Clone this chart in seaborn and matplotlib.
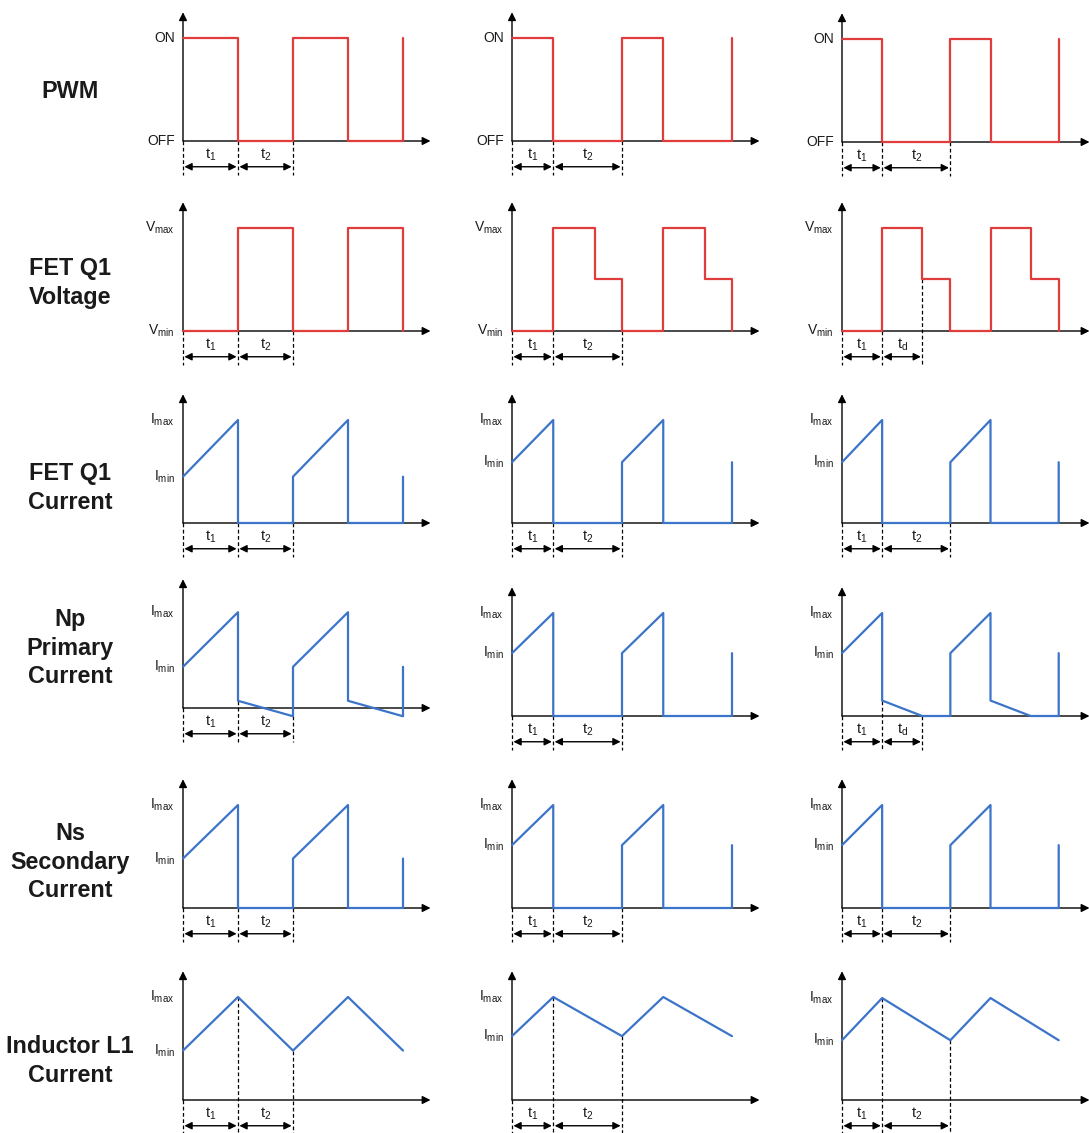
import numpy as np
import pandas as pd
import matplotlib
matplotlib.use('Agg')
import matplotlib.pyplot as plt
import seaborn as sns

# row titles
row_names = ['PWM', 'FET Q1\nVoltage', 'FET Q1\nCurrent', 'Np\nPrimary\nCurrent',
             'Ns\nSecondary\nCurrent', 'Inductor L1\nCurrent']

# timing per column (1 unit = half a period in column 1)
t_on = [1.0, 0.75, 0.73]     # t1
t_off = [1.0, 1.25, 1.24]    # t2
t_d = [1.0, 0.76, 0.73]      # td
n_periods = 2

# levels (0 = baseline, 1 = max level)
v_step = [1.0, 0.5, 0.5]
q1_imin = [0.45, 0.59, 0.59]
np_imax = [0.93, 1.0, 1.0]
np_imin = [0.40, 0.61, 0.61]
np_drop = [0.07, 0.0, 0.15]
np_tail = [-0.08, 0.0, 0.0]
np_decay = [1.0, 0.76, 0.73]
ns_imin = [0.48, 0.61, 0.61]
l1_imin = [0.48, 0.62, 0.58]
l1_imax = [1.0, 1.0, 0.99]

second_span = [['t_2', 't_2', 't_2'], ['t_2', 't_2', 't_d'], ['t_2', 't_2', 't_2'],
               ['t_2', 't_2', 't_d'], ['t_2', 't_2', 't_2'], ['t_2', 't_2', 't_2']]

RED = '#e03c3c'
BLUE = '#3b74c9'

# layout in pixels
W, H = 1089, 1133
col_x = [183, 512, 842]
base_y = [[141, 141, 142], [331, 331, 331], [523, 523, 523],
          [708, 716, 716], [908, 908, 908], [1100, 1100, 1100]]
label_y = [92, 283, 488, 648, 862, 1061]
px_x, px_y = 55, 103

sns.set_style('white')
plt.rcParams['font.family'] = ['Liberation Sans', 'DejaVu Sans']
plt.rcParams['mathtext.fontset'] = 'custom'
plt.rcParams['mathtext.rm'] = 'Liberation Sans'
plt.rcParams['mathtext.it'] = 'Liberation Sans'

fig = plt.figure(figsize=(W / 100, H / 100), dpi=100)


def wave(r, c):
    t1 = t_on[c]
    T = t_on[c] + t_off[c]
    pts = []
    for k in range(n_periods):
        t0 = k * T
        if r == 0:
            pts += [(t0, 1), (t0 + t1, 1), (t0 + t1, 0), (t0 + T, 0)]
        elif r == 1:
            pts += [(t0, 0), (t0 + t1, 0), (t0 + t1, 1), (t0 + t1 + t_d[c], 1),
                    (t0 + t1 + t_d[c], v_step[c]), (t0 + T, v_step[c]), (t0 + T, 0)]
        elif r == 2:
            pts += [(t0, q1_imin[c]), (t0 + t1, 1), (t0 + t1, 0), (t0 + T, 0)]
        elif r == 3:
            pts += [(t0, np_imin[c]), (t0 + t1, np_imax[c]), (t0 + t1, np_drop[c]),
                    (t0 + t1 + np_decay[c], np_tail[c]), (t0 + T, np_tail[c])]
        elif r == 4:
            pts += [(t0, ns_imin[c]), (t0 + t1, 1), (t0 + t1, 0), (t0 + T, 0)]
        else:
            pts += [(t0, l1_imin[c]), (t0 + t1, l1_imax[c])]
    end = n_periods * T
    final = {0: 1, 2: q1_imin[c], 3: np_imin[c], 4: ns_imin[c], 5: l1_imin[c]}
    if r in final:
        pts.append((end, final[r]))
    return pd.DataFrame(pts, columns=['t', 'y'])


def levels(r, c):
    if r == 0:
        return [('ON', 1), ('OFF', 0)]
    if r == 1:
        return [(r'$\mathregular{V_{max}}$', 1), (r'$\mathregular{V_{min}}$', 0)]
    imax = {2: 1, 3: np_imax[c], 4: 1, 5: l1_imax[c]}[r]
    imin = {2: q1_imin[c], 3: np_imin[c], 4: ns_imin[c], 5: l1_imin[c]}[r]
    return [(r'$\mathregular{I_{max}}$', imax), (r'$\mathregular{I_{min}}$', imin)]


for r in range(6):
    fig.text(70 / W, 1 - label_y[r] / H, row_names[r], ha='center', va='center',
             fontsize=16.8, fontweight='bold', color='#1a1a1a', linespacing=1.3)
    for c in range(3):
        x0, yb = col_x[c], base_y[r][c]
        xl, xr, yl, yh = -1.3, 4.8, -0.5, 1.4
        bot = yb - yl * px_y
        top = yb - yh * px_y
        ax = fig.add_axes([(x0 + xl * px_x) / W, 1 - bot / H,
                           (xr - xl) * px_x / W, (bot - top) / H])
        ax.set_xlim(xl, xr)
        ax.set_ylim(yl, yh)
        ax.set_axis_off()
        ax.set_facecolor('none')

        # axes with arrow heads
        arr = dict(arrowstyle='-|>', color='black', lw=1.0, mutation_scale=12,
                   shrinkA=0, shrinkB=0)
        ax.annotate('', xy=(4.5, 0), xytext=(0, 0), arrowprops=arr)
        ax.annotate('', xy=(0, 1.25), xytext=(0, 0), arrowprops=arr)

        df = wave(r, c)
        sns.lineplot(data=df, x='t', y='y', sort=False, estimator=None, ax=ax,
                     color=RED if r < 2 else BLUE, lw=1.6, zorder=3)
        ax.set_axis_off()

        for txt, lv in levels(r, c):
            ax.text(-0.15, lv, txt, ha='right', va='center', fontsize=10,
                    color='#1a1a1a')

        # time markers
        t1 = t_on[c]
        t_end = t1 + (t_d[c] if second_span[r][c] == 't_d' else t_off[c])
        for tm in [0, t1, t_end]:
            ys = df['y'][np.isclose(df['t'], tm)]
            start = ys.min() if (len(ys) and tm > 0) else 0
            ax.plot([tm, tm], [start, -0.33], color='black', lw=0.9,
                    ls=(0, (3, 2)), zorder=2)
        darr = dict(arrowstyle='<|-|>', color='black', lw=1.0, mutation_scale=11,
                    shrinkA=1, shrinkB=1)
        for a, b, lab in [(0, t1, 't_1'), (t1, t_end, second_span[r][c])]:
            ax.annotate('', xy=(b, -0.25), xytext=(a, -0.25), arrowprops=darr)
            ax.text((a + b) / 2, -0.13, r'$\mathregular{%s}$' % lab, ha='center',
                    va='center', fontsize=10.5, color='#1a1a1a')

fig.savefig('out.png', dpi=100)
